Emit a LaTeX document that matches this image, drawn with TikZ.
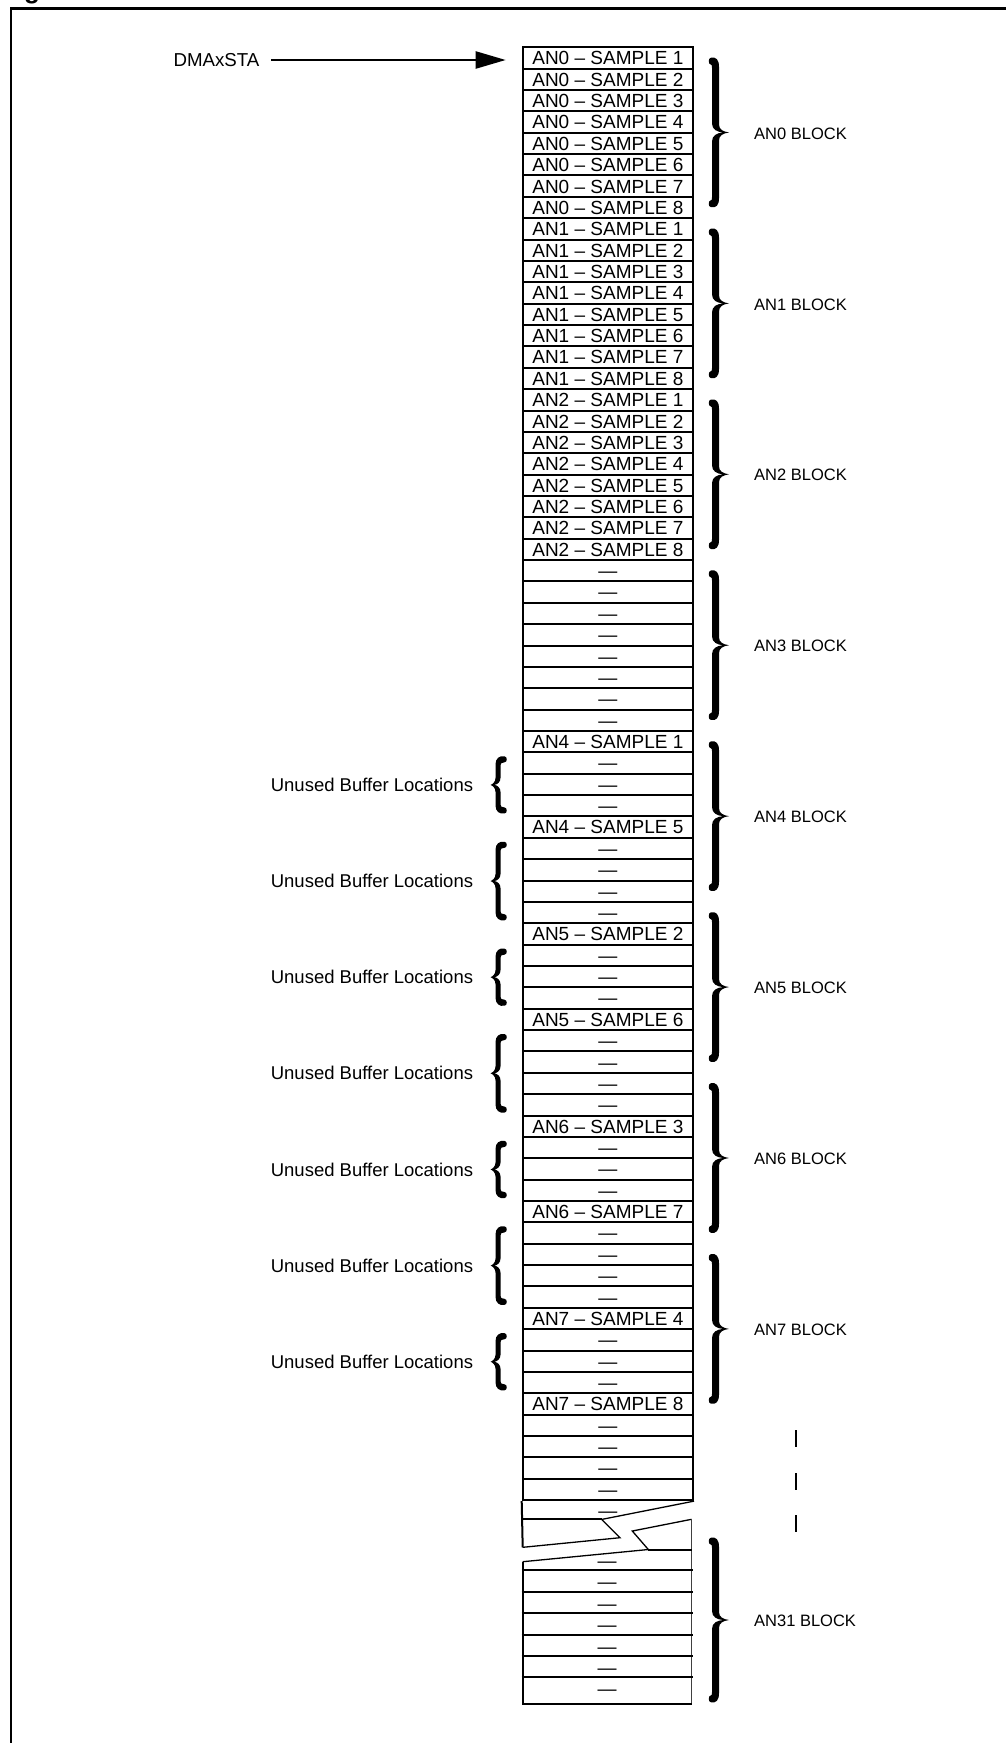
\documentclass[tikz,border=0pt]{standalone}
\usepackage{fontspec}
\setmainfont{Liberation Sans}
\usetikzlibrary{arrows.meta}
% right brace: #1 = x of the curled ends, #2 = top, #3 = bottom
\newcommand\RBrace[3]{%
\pgfmathsetmacro\bH{#3-#2}\pgfmathsetmacro\bM{(#3-#2)/2}%
\begin{scope}[shift={(#1,#2)}]
\fill (3,1) .. controls (8,0) and (11,3) .. (11,10)
 -- (11,\bM-8) .. controls (11,\bM-3) and (15,\bM-0.8) .. (21,\bM)
 .. controls (15,\bM+0.8) and (11,\bM+3) .. (11,\bM+8)
 -- (11,\bH-10) .. controls (11,\bH-3) and (8,\bH) .. (3,\bH-1)
 .. controls (0,\bH-1) and (0,\bH-8) .. (3,\bH-8)
 .. controls (4,\bH-8) and (4,\bH-9) .. (4,\bH-11)
 -- (4,\bM+9) .. controls (4,\bM+3) and (9,\bM+0.5) .. (15,\bM)
 .. controls (9,\bM-0.5) and (4,\bM-3) .. (4,\bM-9)
 -- (4,11) .. controls (4,9) and (4,8) .. (3,8)
 .. controls (0,8) and (0,1) .. (3,1) -- cycle;
\end{scope}}
% left brace: #1 = x of the tip, #2 = top, #3 = bottom
\newcommand\LBrace[3]{%
\pgfmathsetmacro\bH{#3-#2}\pgfmathsetmacro\bM{(#3-#2)/2}%
\begin{scope}[shift={(#1,#2)}]
\fill (14,1) .. controls (9,0) and (5,3) .. (5,9)
 -- (5,\bM-7) .. controls (5,\bM-3) and (2,\bM-0.6) .. (0,\bM)
 .. controls (2,\bM+0.6) and (5,\bM+3) .. (5,\bM+7)
 -- (5,\bH-9) .. controls (5,\bH-3) and (9,\bH) .. (14,\bH-1)
 .. controls (17,\bH-1) and (17,\bH-7) .. (14,\bH-7)
 .. controls (11,\bH-7) and (10,\bH-8) .. (10,\bH-10)
 -- (10,\bM+7) .. controls (10,\bM+3) and (7,\bM+0.5) .. (4,\bM)
 .. controls (7,\bM-0.5) and (10,\bM-3) .. (10,\bM-7)
 -- (10,10) .. controls (10,8) and (11,7) .. (14,7)
 .. controls (17,7) and (17,1) .. (14,1) -- cycle;
\end{scope}}
\tikzset{
 cell/.style={draw, line width=2pt, minimum width=170.3pt, minimum height=21.365pt,
   inner sep=0pt, font=\fontsize{19}{21}\selectfont, text height=13.7pt, text depth=0pt},
 cellx/.style={cell, draw=none},
 lcell/.style={cellx, minimum width=168.8pt, minimum height=21.38pt},
 rowline/.style={line width=2pt},
 thinline/.style={line width=1.3pt},
 lbl/.style={inner sep=0pt, font=\fontsize{18.5}{20}\selectfont, text height=13.3pt, text depth=0pt},
 blk/.style={lbl, font=\fontsize{16.5}{20}\selectfont, anchor=west},
 ptr/.style={line width=2.3pt, -{Triangle[length=30pt,width=17pt]}},
 frame/.style={line width=2.5pt},
 vbar/.style={line width=1.8pt},
}
\begin{document}
\begin{tikzpicture}[x=1pt,y=-1pt]
\useasboundingbox (0,0) rectangle (1005,1743);
\fill[white] (0,0) rectangle (1005,1743);
\draw[frame] (11,1760) -- (11,8.3) -- (1020,8.3);
\node[anchor=base west, inner sep=0pt, font=\bfseries\fontsize{26}{26}\selectfont] (ttl) at (24,-1.5) {g};

% filled sample rows of blocks 0..2
\foreach \bk in {0,1,2}{\foreach \sm in {1,...,8}{%
  \pgfmathtruncatemacro\ri{8*\bk+\sm-1}
  \node[cell] (r\ri) at (607.85,{47.3+(\ri+0.5)*21.365}) {AN\bk{} – SAMPLE \sm};}}
% empty rows
\foreach \ri in {24,...,31,33,34,35,37,38,39,40,42,43,44,46,47,48,49,51,52,53,55,56,57,58,60,61,62,64,65,66,67}
  \node[cell] (r\ri) at (607.85,{47.3+(\ri+0.5)*21.365}) {—};
% scattered samples
\foreach \ri/\an/\sm in {32/4/1,36/4/5,41/5/2,45/5/6,50/6/3,54/6/7,59/7/4,63/7/8}
  \node[cell] (r\ri) at (607.85,{47.3+(\ri+0.5)*21.365}) {AN\an{} – SAMPLE \sm};
\node[cellx] (r68) at (607.85,{47.3+68.5*21.365}) {—};

% break (upper part)
\coordinate (bB) at (601.7,1519.4);
\coordinate (bC) at (620,1537.7);
\coordinate (bD) at (522.7,1547.3);
\draw[rowline] (r67.south west) -- (bD);
\draw[rowline] (r67.south west |- bB) -- (bB);
\draw[thinline] (r67.south east) -- (bB) -- (bC) -- (bD);

% break (lower part)
\coordinate (cA) at (522.7,1561.7);
\coordinate (cB) at (648.3,1549.5);
\coordinate (cC) at (632.3,1531);
\coordinate (cD) at (691.5,1519.3);
\coordinate (cE) at (691.5,1704);
\coordinate (cF) at (522.7,1704);
\draw[thinline] (cA) -- (cB) -- (cC) -- (cD);
\draw[thinline, black!75] (cD) -- (cE);
\draw[rowline] (cA) -- (cF) -- (cE);
\draw[rowline] (cB) -- (cB -| cD);
\foreach \k in {0,...,6}
  \node[lcell] (L\k) at (607.1,{1550+(\k+0.5)*21.38}) {—};
\foreach \k in {1,...,6}
  \draw[rowline] (L\k.north west) -- (L\k.north east);

% block braces and labels
\foreach \bk in {0,...,7}{%
  \pgfmathsetmacro\yt{47.3+8*\bk*21.365+9.4}
  \pgfmathsetmacro\yb{47.3+(8*\bk+8)*21.365-10}
  \RBrace{708}{\yt}{\yb}
  \node[blk] (blk\bk) at (754,{(\yt+\yb)/2}) {AN\bk{} BLOCK};}
\RBrace{708}{1536.7}{1703.3}
\node[blk] (blk31) at (754,1620) {AN31 BLOCK};

% unused buffer locations
\foreach \fa/\fb [count=\n] in {33/35,37/40,42/44,46/49,51/53,55/58,60/62}{%
  \pgfmathsetmacro\yt{47.3+\fa*21.365+3}
  \pgfmathsetmacro\yb{47.3+(\fb+1)*21.365-2}
  \LBrace{490.5}{\yt}{\yb}
  \node[lbl, anchor=east] (un\n) at (473.3,{(\yt+\yb)/2}) {Unused Buffer Locations};}

% vertical continuation marks
\foreach \yy in {1430,1473.3,1515}
  \draw[vbar] (796,\yy) -- (796,\yy+16.5);

% start pointer
\node[lbl, anchor=west, font=\fontsize{18.7}{20}\selectfont] (dma) at (173.3,60) {DMAxSTA};
\draw[ptr, shorten <=11.5pt, shorten >=16pt] (dma.east) -- (dma.east -| r0.west);
\end{tikzpicture}
\end{document}
